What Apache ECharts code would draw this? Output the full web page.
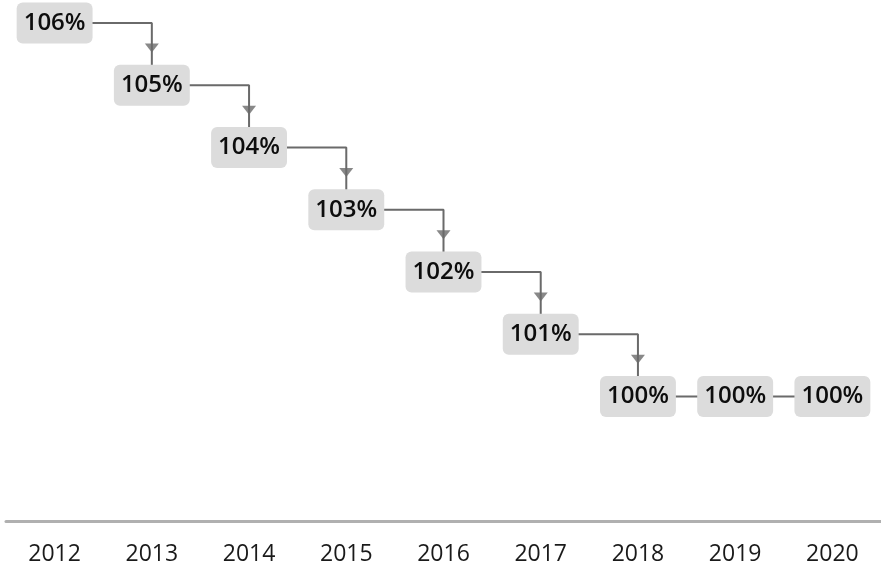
<!DOCTYPE html>
<html>
<head>
	<meta charset="utf-8">
	<title>echarts</title>
	<script type="text/javascript" src="https://cdn.jsdelivr.net/npm/echarts@6/dist/echarts.min.js"></script>
	<style>html,body{margin:0;padding:0;background:#fff;}</style>
</head>
<body>
	<div id="mychar" style="width: 881px;height:569px;"></div>

	<script type="text/javascript">
		var years = ['2012', '2013', '2014', '2015', '2016', '2017', '2018', '2019', '2020'];
		var values = [106, 105, 104, 103, 102, 101, 100, 100, 100];

		// arrow heads on each falling step, just below the previous level
		var arrows = [];
		for (var i = 1; i < values.length; i++) {
			if (values[i] < values[i - 1]) {
				arrows.push([years[i], values[i - 1] - 0.4]);
			}
		}

		var mychar = echarts.init(document.getElementById("mychar"));
		var option = {
			animation: false,
			grid: {
				left: 6,
				width: 880,
				top: 23,
				bottom: 48
			},
			xAxis: {
				type: 'category',
				data: years,
				boundaryGap: true,
				axisLine: { lineStyle: { color: '#b0b0b0', width: 3 } },
				axisTick: { show: false },
				axisLabel: {
					margin: 22,
					fontSize: 23,
					color: '#1a1a1a',
					fontFamily: 'Open Sans'
				}
			},
			yAxis: {
				type: 'value',
				min: 98,
				max: 106,
				show: false
			},
			series: [
				{
					type: 'line',
					step: 'end',
					data: values,
					symbol: 'circle',
					symbolSize: 1,
					itemStyle: { color: '#6a6a6a' },
					lineStyle: { color: '#6a6a6a', width: 2 },
					label: {
						show: true,
						position: 'inside',
						formatter: '{c}%',
						fontSize: 24,
						fontWeight: 600,
						fontFamily: 'Open Sans',
						color: '#0d0d0d',
						backgroundColor: '#dcdcdc',
						borderRadius: 6,
						padding: [9, 7, 8, 7]
					},
					z: 2
				},
				{
					type: 'scatter',
					data: arrows,
					symbol: 'triangle',
					symbolRotate: 180,
					symbolSize: [14, 9],
					itemStyle: { color: '#6a6a6a' },
					z: 3
				}
			]
		};

		mychar.setOption(option);
	</script>
</body>
</html>
